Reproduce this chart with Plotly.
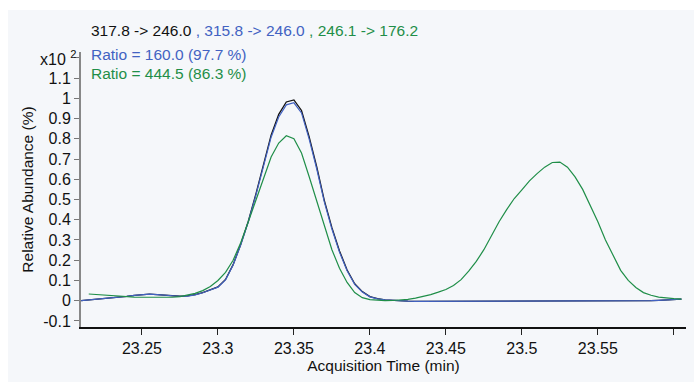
import plotly.graph_objects as go

# Acquisition times (min), shared sampling grid
times = [
    23.210, 23.215, 23.220, 23.225, 23.230, 23.235, 23.240, 23.245, 23.250, 23.255,
    23.260, 23.265, 23.270, 23.275, 23.280, 23.285, 23.290, 23.295, 23.300, 23.305,
    23.310, 23.315, 23.320, 23.325, 23.330, 23.335, 23.340, 23.345, 23.350, 23.355,
    23.360, 23.365, 23.370, 23.375, 23.380, 23.385, 23.390, 23.395, 23.400, 23.405,
    23.410, 23.415, 23.420, 23.425, 23.430, 23.435, 23.440, 23.445, 23.450, 23.455,
    23.460, 23.465, 23.470, 23.475, 23.480, 23.485, 23.490, 23.495, 23.500, 23.505,
    23.510, 23.515, 23.520, 23.525, 23.530, 23.535, 23.540, 23.545, 23.550, 23.555,
    23.560, 23.565, 23.570, 23.575, 23.580, 23.585, 23.590, 23.595, 23.600, 23.605,
]

# Relative abundance (x10^2 %) for each transition
quant_317_246 = [
    0.000, 0.003, 0.006, 0.009, 0.012, 0.016, 0.021, 0.026, 0.030, 0.032,
    0.030, 0.027, 0.024, 0.022, 0.024, 0.030, 0.040, 0.055, 0.068, 0.105,
    0.178, 0.278, 0.393, 0.528, 0.672, 0.818, 0.921, 0.982, 0.992, 0.940,
    0.811, 0.662, 0.496, 0.361, 0.246, 0.152, 0.084, 0.045, 0.020, 0.010,
    0.004, 0.001, 0.000, -0.002, -0.003, -0.003, -0.003, -0.003, -0.003, -0.003,
    -0.003, -0.003, -0.003, -0.003, -0.003, -0.003, -0.003, -0.003, -0.003, -0.003,
    -0.003, -0.003, -0.003, -0.003, -0.003, -0.003, -0.003, -0.003, -0.003, -0.003,
    -0.003, -0.003, -0.003, -0.002, -0.001, 0.000, 0.002, 0.004, 0.006, 0.008,
]
qual_315_246 = [
    0.000, 0.003, 0.006, 0.009, 0.012, 0.016, 0.021, 0.026, 0.030, 0.032,
    0.030, 0.027, 0.024, 0.022, 0.023, 0.029, 0.039, 0.054, 0.067, 0.103,
    0.176, 0.276, 0.390, 0.522, 0.664, 0.808, 0.908, 0.968, 0.978, 0.928,
    0.800, 0.652, 0.488, 0.354, 0.240, 0.148, 0.081, 0.043, 0.019, 0.009,
    0.004, 0.001, 0.000, -0.002, -0.003, -0.003, -0.003, -0.003, -0.003, -0.003,
    -0.003, -0.003, -0.003, -0.003, -0.003, -0.003, -0.003, -0.003, -0.003, -0.003,
    -0.003, -0.003, -0.003, -0.003, -0.003, -0.003, -0.003, -0.003, -0.003, -0.003,
    -0.003, -0.003, -0.003, -0.002, -0.001, 0.000, 0.002, 0.004, 0.006, 0.008,
]
qual_246_176 = [
    None, 0.033, 0.030, 0.027, 0.024, 0.022, 0.020, 0.018, 0.017, 0.017,
    0.016, 0.016, 0.017, 0.020, 0.027, 0.036, 0.050, 0.070, 0.100, 0.140,
    0.200, 0.286, 0.390, 0.500, 0.606, 0.710, 0.779, 0.815, 0.800, 0.730,
    0.614, 0.490, 0.366, 0.252, 0.160, 0.090, 0.040, 0.015, 0.005, 0.001,
    0.000, 0.001, 0.003, 0.007, 0.013, 0.020, 0.030, 0.042, 0.055, 0.075,
    0.104, 0.146, 0.194, 0.252, 0.322, 0.390, 0.450, 0.505, 0.548, 0.592,
    0.628, 0.660, 0.683, 0.685, 0.660, 0.612, 0.550, 0.470, 0.390, 0.300,
    0.228, 0.150, 0.100, 0.065, 0.040, 0.027, 0.018, 0.013, 0.010, 0.008,
]

y_ticks = [-0.1, 0, 0.1, 0.2, 0.3, 0.4, 0.5, 0.6, 0.7, 0.8, 0.9, 1, 1.1]
y_tick_labels = ["-0.1", "0", "0.1", "0.2", "0.3", "0.4", "0.5", "0.6", "0.7",
                 "0.8", "0.9", "1", "1.1"]
y_unlabeled_ticks = [1.2]
x_ticks = [23.25, 23.3, 23.35, 23.4, 23.45, 23.5, 23.55]
x_tick_labels = ["23.25", "23.3", "23.35", "23.4", "23.45", "23.5", "23.55"]
x_unlabeled_ticks = [23.6]

BLACK = "#111111"
BLUE = "#4262C2"
GREEN = "#1F8E48"
FONT = "Liberation Sans, Arial, sans-serif"

fig = go.Figure()
fig.add_trace(go.Scatter(x=times, y=quant_317_246, mode="lines",
                         line=dict(color=BLACK, width=1.3), name="317.8 -> 246.0"))
fig.add_trace(go.Scatter(x=times, y=qual_315_246, mode="lines",
                         line=dict(color=BLUE, width=1.2), name="315.8 -> 246.0"))
fig.add_trace(go.Scatter(x=times, y=qual_246_176, mode="lines",
                         line=dict(color=GREEN, width=1.2), name="246.1 -> 176.2"))

W, H = 694, 383
ML, MR, MT, MB = 81, 8, 52, 56
pw, ph = W - ML - MR, H - MT - MB


def px_x(p):
    return (p - ML) / pw


def px_y(p):
    return (H - MB - p) / ph


fig.update_layout(
    width=W, height=H,
    margin=dict(l=ML, r=MR, t=MT, b=MB, pad=0),
    paper_bgcolor="white",
    plot_bgcolor="rgba(0,0,0,0)",
    showlegend=False,
    font=dict(family=FONT, size=16, color="#111111"),
    shapes=[dict(type="rect", xref="paper", yref="paper", layer="below",
                 x0=px_x(8), x1=px_x(694), y0=px_y(382), y1=px_y(10),
                 fillcolor="#F5F7FA", line=dict(width=0))],
    xaxis=dict(
        range=[23.2099, 23.608],
        tickvals=x_ticks, ticktext=x_tick_labels,
        ticks="outside", ticklen=6, tickcolor="#222222", tickwidth=1,
        minor=dict(tickvals=x_unlabeled_ticks, ticks="outside", ticklen=6,
                   tickcolor="#222222", tickwidth=1, showgrid=False),
        showline=True, linecolor="#111111", linewidth=1.5,
        showgrid=False, zeroline=False,
        tickfont=dict(size=16),
        title=dict(text="Acquisition Time (min)", font=dict(size=15.5), standoff=3),
    ),
    yaxis=dict(
        range=[-0.13, 1.229],
        tickvals=y_ticks, ticktext=y_tick_labels,
        ticks="outside", ticklen=5, tickcolor="#777777", tickwidth=1,
        minor=dict(tickvals=y_unlabeled_ticks, ticks="outside", ticklen=5,
                   tickcolor="#777777", tickwidth=1, showgrid=False),
        showline=True, linecolor="#888888", linewidth=2,
        showgrid=False, zeroline=False,
        tickfont=dict(size=16),
        title=dict(text="Relative Abundance (%)", font=dict(size=15.5), standoff=6),
    ),
    annotations=[
        dict(xref="paper", yref="paper", x=px_x(78), y=px_y(58),
             xanchor="right", yanchor="middle", showarrow=False,
             text="x10 <sup>2</sup>", font=dict(size=16, color="#111111")),
        dict(xref="paper", yref="paper", x=px_x(89), y=px_y(31),
             xanchor="left", yanchor="middle", showarrow=False,
             text=(f"<span style='color:{BLACK}'>317.8 -> 246.0</span>"
                   f"<span style='color:{BLUE}'> , 315.8 -> 246.0</span>"
                   f"<span style='color:{GREEN}'> , 246.1 -> 176.2</span>"),
             font=dict(size=15.5)),
        dict(xref="paper", yref="paper", x=px_x(89), y=px_y(55),
             xanchor="left", yanchor="middle", showarrow=False,
             text="Ratio = 160.0 (97.7 %)", font=dict(size=15.5, color=BLUE)),
        dict(xref="paper", yref="paper", x=px_x(89), y=px_y(73),
             xanchor="left", yanchor="middle", showarrow=False,
             text="Ratio = 444.5 (86.3 %)", font=dict(size=15.5, color=GREEN)),
    ],
)

fig.write_html("out.html")
